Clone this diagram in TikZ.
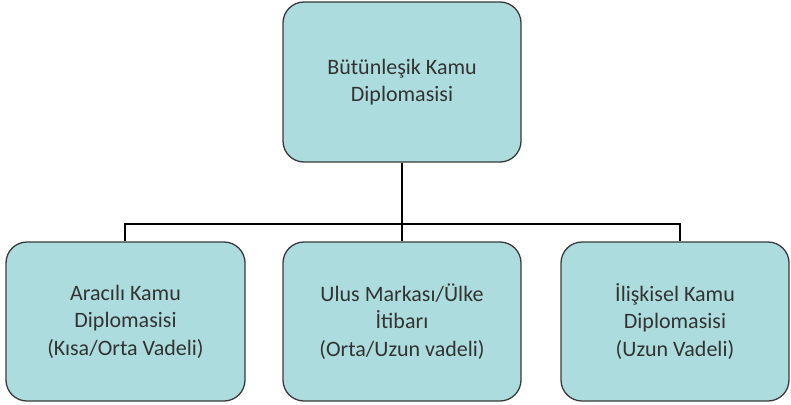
\documentclass[tikz,border=0pt]{standalone}
\usepackage{fontspec}
\setmainfont{Carlito}
\definecolor{boxfill}{HTML}{ACDCDD}
\definecolor{boxline}{HTML}{3A3A3A}
\definecolor{txt}{HTML}{333333}
\begin{document}
\begin{tikzpicture}[x=1pt,y=-1pt,
  box/.style={draw=boxline, line width=1.3pt, fill=boxfill, rounded corners=21pt,
    align=center, text=txt, font=\fontsize{22}{27.5}\selectfont, inner sep=0pt},
  link/.style={draw=black, line width=2pt}]
\useasboundingbox (0,0) rectangle (791,404);
\node[box, minimum width=238pt, minimum height=160pt] (top) at (402,82) {Bütünleşik Kamu\\Diplomasisi};
\node[box, minimum width=239pt, minimum height=159pt] (l) at (125.5,321.5) {Aracılı Kamu\\Diplomasisi\\(Kısa/Orta Vadeli)};
\node[box, minimum width=238pt, minimum height=159pt] (m) at (402,321.5) {Ulus Markası/Ülke\\İtibarı\\(Orta/Uzun vadeli)};
\node[box, minimum width=228pt, minimum height=159pt] (r) at (675,321.5) {İlişkisel Kamu\\Diplomasisi\\(Uzun Vadeli)};
\coordinate (hl) at (125,224);
\coordinate (hr) at (680,224);
\coordinate (hm) at (402,224);
\draw[link] (top.south) -- (hm);
\draw[link] (hl |- l.north) -- (hl) -- (hr) -- (hr |- r.north);
\draw[link] (hm) -- (m.north);
\end{tikzpicture}
\end{document}
